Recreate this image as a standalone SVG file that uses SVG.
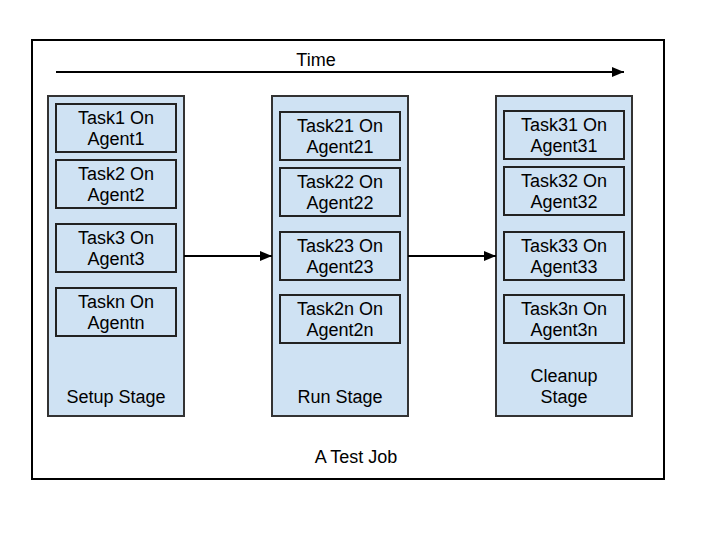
<svg xmlns="http://www.w3.org/2000/svg" width="720" height="540" viewBox="0 0 720 540">
<defs>
<marker id="ah" viewBox="0 0 10 10" refX="10" refY="5" markerWidth="7" markerHeight="7" markerUnits="userSpaceOnUse" orient="auto"><path d="M0,0 L10,5 L0,10 z" fill="#000"/></marker>
<marker id="ah2" viewBox="0 0 12 10" refX="12" refY="5" markerWidth="13" markerHeight="10" markerUnits="userSpaceOnUse" orient="auto"><path d="M0,0 L12,5 L0,10 z" fill="#000"/></marker>
</defs>
<style>
text{font-family:"Liberation Sans",Arial,sans-serif;font-size:18px;fill:#000;text-anchor:middle}
.stage{fill:#cfe2f3;stroke:#333;stroke-width:2}
.task{fill:#cfe2f3;stroke:#222;stroke-width:2}
.conn{stroke:#000;stroke-width:2;fill:none}
</style>
<rect id="job" x="32" y="40" width="632" height="439" fill="#fff" stroke="#000" stroke-width="2"/>
<text x="316" y="66" font-size="17">Time</text>
<text x="356" y="463" font-size="17">A Test Job</text>
<g id="setup">
<rect class="stage" x="48" y="96" width="136" height="320"/>
<text x="116" y="403">Setup Stage</text>
</g>
<g id="task1"><rect class="task" x="56" y="104" width="120" height="48"/><text x="116" y="124">Task1 On</text><text x="116" y="145">Agent1</text></g>
<g id="task2"><rect class="task" x="56" y="160" width="120" height="48"/><text x="116" y="180">Task2 On</text><text x="116" y="201">Agent2</text></g>
<g id="task3"><rect class="task" x="56" y="224" width="120" height="48"/><text x="116" y="244">Task3 On</text><text x="116" y="265">Agent3</text></g>
<g id="taskn"><rect class="task" x="56" y="288" width="120" height="48"/><text x="116" y="308">Taskn On</text><text x="116" y="329">Agentn</text></g>
<g id="run">
<rect class="stage" x="272" y="96" width="136" height="320"/>
<text x="340" y="403">Run Stage</text>
</g>
<g id="task21"><rect class="task" x="280" y="112" width="120" height="48"/><text x="340" y="132">Task21 On</text><text x="340" y="153">Agent21</text></g>
<g id="task22"><rect class="task" x="280" y="168" width="120" height="48"/><text x="340" y="188">Task22 On</text><text x="340" y="209">Agent22</text></g>
<g id="task23"><rect class="task" x="280" y="232" width="120" height="48"/><text x="340" y="252">Task23 On</text><text x="340" y="273">Agent23</text></g>
<g id="task2n"><rect class="task" x="280" y="295" width="120" height="48"/><text x="340" y="315">Task2n On</text><text x="340" y="336">Agent2n</text></g>
<g id="cleanup">
<rect class="stage" x="496" y="96" width="136" height="320"/>
<text x="564" y="382">Cleanup</text><text x="564" y="403">Stage</text>
</g>
<g id="task31"><rect class="task" x="504" y="111" width="120" height="48"/><text x="564" y="131">Task31 On</text><text x="564" y="152">Agent31</text></g>
<g id="task32"><rect class="task" x="504" y="167" width="120" height="48"/><text x="564" y="187">Task32 On</text><text x="564" y="208">Agent32</text></g>
<g id="task33"><rect class="task" x="504" y="232" width="120" height="48"/><text x="564" y="252">Task33 On</text><text x="564" y="273">Agent33</text></g>
<g id="task3n"><rect class="task" x="504" y="295" width="120" height="48"/><text x="564" y="315">Task3n On</text><text x="564" y="336">Agent3n</text></g>
<g id="connectors">
<line class="conn" x1="56" y1="72" x2="624" y2="72" marker-end="url(#ah2)"/>
<line class="conn" x1="184" y1="256" x2="272" y2="256" marker-end="url(#ah2)"/>
<line class="conn" x1="408" y1="256" x2="496" y2="256" marker-end="url(#ah2)"/>
</g>
</svg>
